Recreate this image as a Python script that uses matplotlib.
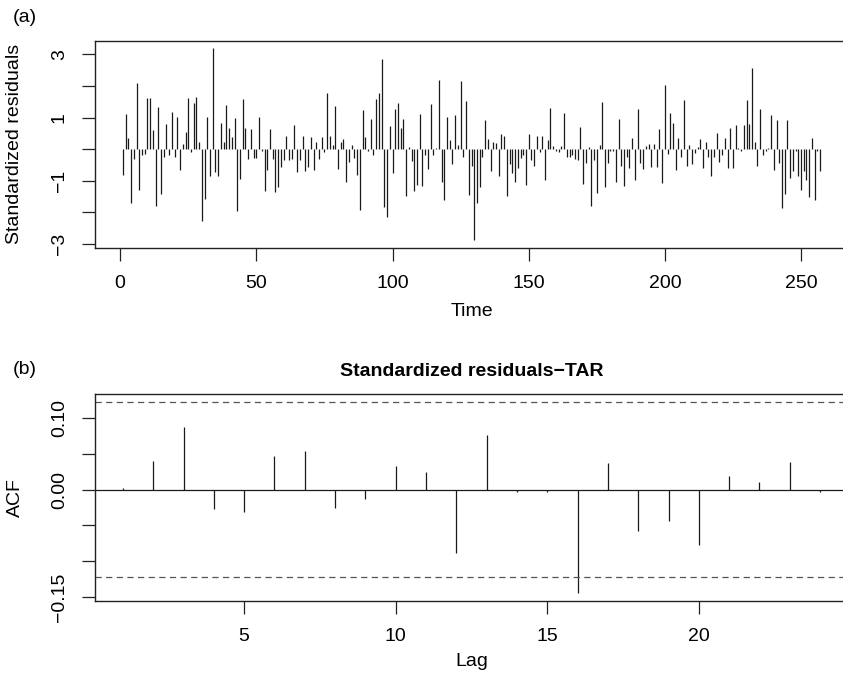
import numpy as np
import matplotlib
matplotlib.use("Agg")
import matplotlib.pyplot as plt

# standardized residuals of the TAR model, t = 1..257
resid = [
    -0.83, 1.13, 0.34, -1.70, -0.30, 2.08, -1.29, -0.19, -0.14, 1.62,
    1.62, 0.62, -1.79, 1.33, -1.40, -0.25, 0.79, -0.19, 1.17, -0.25,
    1.02, -0.65, 0.16, 0.55, 1.62, -0.08, 1.47, 1.64, 0.24, -2.26,
    -1.58, 1.01, -0.85, 3.19, -0.72, -0.86, 0.84, 0.22, 1.40, 0.67,
    0.39, 1.00, -1.95, -0.94, 1.59, 0.66, -0.32, 0.65, -0.27, -0.27,
    1.01, -0.05, -1.33, -0.65, 0.63, -0.30, -1.36, -1.19, -0.55, -0.35,
    0.42, -0.35, -0.30, 0.76, -0.72, -0.34, 0.43, -0.70, -0.55, 0.38,
    -0.67, 0.24, -0.32, 0.38, -0.08, 1.79, 0.42, 0.14, 1.37, -0.62,
    0.24, 0.33, -1.02, -0.39, 0.14, -0.28, -0.81, -1.93, 1.24, 0.38,
    -0.04, 0.96, -0.18, 1.58, 1.79, 2.85, -1.83, -2.13, 0.72, -0.74,
    1.26, 1.45, 0.68, 0.96, -1.49, 0.06, -0.36, -1.32, -1.13, 1.10,
    -1.15, -0.18, -0.63, 1.42, -0.18, 0.04, 2.19, -1.04, -1.60, 1.03,
    0.29, -0.47, 1.09, 0.14, 2.17, -0.23, 1.53, -1.44, -0.52, -2.88,
    -1.71, -1.18, -0.23, 0.93, 0.32, -0.68, 0.24, 0.19, -0.84, 0.47,
    0.43, -1.49, -0.47, -0.76, -1.02, -0.60, -0.28, -0.18, -1.13, 0.47,
    -0.34, -0.52, 0.43, -0.10, 0.42, -0.97, 0.29, 1.32, 0.10, -0.04,
    -0.10, 0.10, 1.14, -0.25, -0.25, -0.18, -0.32, -0.34, 0.69, -1.11,
    -0.44, 0.08, -1.79, -0.34, -1.37, 0.12, 1.50, -1.18, -0.44, -0.07,
    -0.07, -1.02, 0.95, -0.52, -1.15, -0.25, -0.60, 0.35, -0.97, 1.26,
    -0.44, -0.63, 0.10, 0.17, -0.55, 0.17, -0.55, 0.63, -1.07, 2.03,
    -0.16, 1.14, 0.82, -0.65, 0.35, -0.23, 1.56, -0.52, 0.14, -0.46,
    -0.13, 0.08, 0.33, -0.58, 0.24, -0.23, -0.86, -0.26, 0.51, -0.39,
    -0.18, 0.35, -0.60, 0.68, -0.58, 0.77, 0.05, -0.05, 0.77, 1.56,
    0.80, 2.56, 0.24, -0.52, 1.26, -0.18, -0.05, 0.05, 1.08, -0.65,
    0.93, -0.44, -1.86, -1.41, 0.91, -0.92, -0.68, -0.05, -0.85, -1.30,
    -0.70, -0.98, -1.50, 0.36, -1.60, -0.05, -0.70,
]

# sample ACF of the residuals, lags 1..24
acf_vals = [
    0.002, 0.040, 0.087, -0.027, -0.031, 0.047, 0.054, -0.026, -0.013, 0.033,
    0.025, -0.089, 0.076, -0.003, -0.004, -0.145, 0.0375, -0.058, -0.044, -0.078,
    0.019, 0.011, 0.038, -0.004,
]

res_yticks = [-3, -2, -1, 0, 1, 2, 3]
res_ylabels = ["\u22123", "", "\u22121", "", "1", "", "3"]
acf_yticks = [-0.15, -0.10, -0.05, 0.00, 0.05, 0.10]
acf_ylabels = ["\u22120.15", "", "", "0.00", "", "0.10"]

plt.rcParams["font.family"] = ["Liberation Sans", "DejaVu Sans"]
plt.rcParams["font.size"] = 14

W, H = 843, 681
fig = plt.figure(figsize=(W / 100, H / 100), dpi=100)

def rlim(lo, hi):
    # R style 4% axis extension
    d = 0.04 * (hi - lo)
    return lo - d, hi + d

def style(ax):
    for s in ax.spines.values():
        s.set_linewidth(1.0)
        s.set_color("#222222")
    ax.tick_params(length=9.5, width=0.9, color="#222222", pad=10, labelsize=14)

# (a) residual series
t = np.arange(1, len(resid) + 1)
ax1 = fig.add_axes([95 / W, (H - 248) / H, (848 - 95) / W, (248 - 40.7) / H])
ax1.vlines(t, 0, resid, color="#1a1a1a", linewidth=0.9)
ax1.set_xlim(*rlim(1, len(resid)))
ax1.set_ylim(*rlim(min(resid), max(resid)))
ax1.set_xticks(np.arange(0, 251, 50))
ax1.set_yticks(res_yticks)
ax1.set_yticklabels(res_ylabels, rotation=90, va="center")
ax1.set_xlabel("Time", labelpad=8)
ax1.set_ylabel("Standardized residuals")
ax1.yaxis.set_label_coords(-0.095, 0.5)
style(ax1)

# (b) ACF of residuals
lags = np.arange(1, len(acf_vals) + 1)
clim = 1.96 / np.sqrt(len(resid))
ax2 = fig.add_axes([95 / W, (H - 601) / H, (848 - 95) / W, (601 - 394.3) / H])
ax2.vlines(lags, 0, acf_vals, color="#1a1a1a", linewidth=0.9)
ax2.axhline(0, color="#1a1a1a", linewidth=0.9)
for c in (clim, -clim):
    ax2.axhline(c, color="#555555", linewidth=0.9, linestyle=(0, (5, 3.5)))
ax2.set_xlim(*rlim(1, len(acf_vals)))
ax2.set_ylim(*rlim(min(min(acf_vals), -clim), max(max(acf_vals), clim)))
ax2.set_xticks([5, 10, 15, 20])
ax2.set_yticks(acf_yticks)
ax2.set_yticklabels(acf_ylabels, rotation=90, va="center")
ax2.set_xlabel("Lag", labelpad=6)
ax2.set_ylabel("ACF")
ax2.yaxis.set_label_coords(-0.095, 0.5)
ax2.set_title("Standardized residuals\u2212TAR", fontweight="bold", fontsize=14, pad=13)
style(ax2)

fig.text(13 / W, 1 - 17 / H, "(a)", ha="left", va="center", fontsize=14)
fig.text(13 / W, 1 - 370 / H, "(b)", ha="left", va="center", fontsize=14)

fig.savefig("out.png", dpi=100)
